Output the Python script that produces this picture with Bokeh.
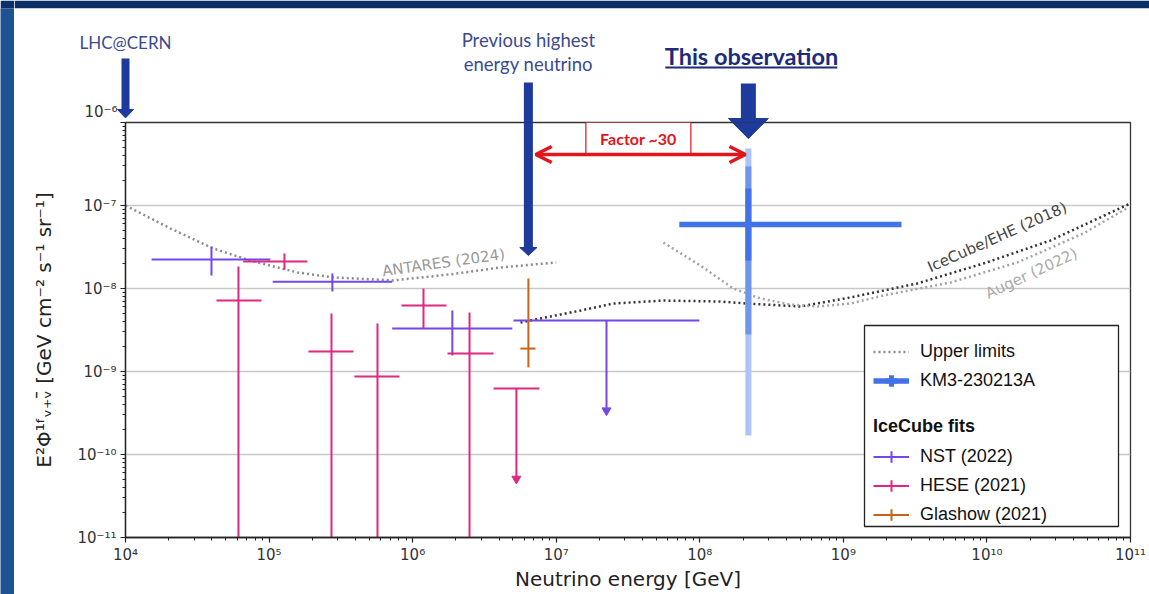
import math
from bokeh.plotting import figure
from bokeh.layouts import column, row
from bokeh.models import (Range1d, FixedTicker, CustomJSTickFormatter, Legend, LegendItem,
                          BoxAnnotation, Arrow, OpenHead, Label, PolyAnnotation)
from bokeh.embed import file_html
from bokeh.resources import INLINE

# ---------------- data ----------------
x_ticks = [1e4, 1e5, 1e6, 1e7, 1e8, 1e9, 1e10, 1e11]
y_ticks = [1e-11, 1e-10, 1e-9, 1e-8, 1e-7, 1e-6]

# upper-limit curves
antares_e = [1.0e4, 2.06e4, 4.1e4, 7.41e4, 1.58e5, 2.81e5, 7.35e5, 1.83e6, 4.08e6, 1.0e7]
antares_f = [1.0e-7, 5.28e-8, 3.03e-8, 2.17e-8, 1.56e-8, 1.36e-8, 1.25e-8, 1.48e-8, 1.79e-8, 2.06e-8]

ehe_e = [5.64e6, 9.12e6, 1.48e7, 2.5e7, 5.58e7, 1.39e8, 2.14e8, 5.02e8, 1.12e9, 3.27e9, 9.44e9, 2.76e10, 1.0e11]
ehe_f = [3.89e-9, 4.6e-9, 5.43e-9, 6.59e-9, 7.16e-9, 6.97e-9, 6.59e-9, 6.07e-9, 7.8e-9, 1.15e-8, 2.0e-8, 3.78e-8, 1.06e-7]

auger_e = [5.58e7, 1.01e8, 1.71e8, 2.64e8, 4.28e8, 6.59e8, 1.12e9, 1.9e9, 5.56e9, 1.63e10, 4.69e10, 9.66e10]
auger_f = [3.58e-8, 1.89e-8, 1.0e-8, 7.59e-9, 6.41e-9, 6.07e-9, 6.59e-9, 8.24e-9, 1.18e-8, 2.06e-8, 4.6e-8, 9.46e-8]

# IceCube NST (2022)
nst_e = [3.97e4, 2.76e5, 1.89e6]
nst_e_lo = [1.52e4, 1.06e5, 7.2e5]
nst_e_hi = [1.02e5, 7.2e5, 4.95e6]
nst_f = [2.23e-8, 1.21e-8, 3.3e-9]
nst_f_lo = [1.43e-8, 9.2e-9, 1.56e-9]
nst_f_hi = [3.2e-8, 1.52e-8, 5.43e-9]
nst_ul_e = [2.24e7]
nst_ul_e_lo = [5.04e6]
nst_ul_e_hi = [9.93e7]
nst_ul_f = [4.11e-9]
nst_ul_tip = [3.39e-10]

# IceCube HESE (2021)
hese_e = [6.12e4, 1.28e5, 2.72e5, 5.69e5, 1.19e6, 2.49e6]
hese_e_lo = [4.3e4, 6.6e4, 1.88e5, 3.93e5, 8.36e5, 1.75e6]
hese_e_hi = [8.85e4, 1.85e5, 3.87e5, 8.1e5, 1.72e6, 3.66e6]
hese_f = [7.16e-9, 2.11e-8, 1.74e-9, 8.7e-10, 6.23e-9, 1.65e-9]
hese_f_lo = [1e-12, 1.69e-8, 1e-12, 1e-12, 3.3e-9, 1e-12]
hese_f_hi = [1.84e-8, 2.64e-8, 5.0e-9, 3.79e-9, 1.0e-8, 5.14e-9]
hese_ul_e = [5.28e6]
hese_ul_e_lo = [3.66e6]
hese_ul_e_hi = [7.64e6]
hese_ul_f = [6.24e-10]
hese_ul_tip = [5.1e-11]

# IceCube Glashow (2021)
gla_e = [6.4e6]
gla_e_lo = [5.63e6]
gla_e_hi = [7.17e6]
gla_f = [1.89e-9]
gla_f_lo = [1.12e-9]
gla_f_hi = [1.32e-8]

# KM3-230213A
km3_e = [2.18e8]
km3_e_lo = [7.2e7]
km3_e_hi = [2.54e9]
km3_f = [5.9e-8]
km3_1s = [2.17e-8, 1.6e-7]
km3_2s = [2.79e-9, 2.95e-7]
km3_3s = [1.69e-10, 4.86e-7]

lhc_e = 1.0e4

# ---------------- layout / style ----------------
W, H = 1149, 594
STRIP = 14                 # slide edge on the left
TOP = 122                  # page y of the plot frame top
FL, FR, FB = 125, 1130, 537
DEC = (FR - FL) / 7.0      # px per decade (x)
YDEC = (FB - TOP) / 5.0    # px per decade (y)

NST_C = "#7447ea"
HESE_C = "#e0287f"
GLA_C = "#cc6216"
KM3_C = "#4272e8"
KM3_2S = "#6f95ef"
KM3_3S = "#adc4f6"
BLUE = "#1e3a9c"
RED = "#e3141c"
NAVY = "#0b2f66"
AX = "DejaVu Sans"

# ---------------- main plot ----------------
p = figure(width=W - STRIP, height=H - TOP, x_axis_type="log", y_axis_type="log",
           x_range=Range1d(1e4, 1e11), y_range=Range1d(1e-11, 1e-6),
           output_backend="svg", toolbar_location=None,
           min_border_left=FL - STRIP, min_border_right=W - FR, min_border_top=0,
           min_border_bottom=H - FB,
           background_fill_color="white", border_fill_color="white")
p.frame_align = False

x_minor = [k * 10.0 ** d for d in range(4, 11) for k in range(2, 10)]
y_minor = [k * 10.0 ** d for d in range(-11, -6) for k in range(2, 10)]
p.xaxis.ticker = FixedTicker(ticks=x_ticks, minor_ticks=x_minor)
p.yaxis.ticker = FixedTicker(ticks=y_ticks, minor_ticks=y_minor)
p.ygrid.ticker = FixedTicker(ticks=y_ticks)
p.xgrid.visible = False
p.ygrid.grid_line_color = "#c8c8c8"
p.ygrid.grid_line_width = 1.3

SUP = """
const m = {'-':'\u207b','0':'\u2070','1':'\u00b9','2':'\u00b2','3':'\u00b3','4':'\u2074',
           '5':'\u2075','6':'\u2076','7':'\u2077','8':'\u2078','9':'\u2079'};
const e = Math.round(Math.log10(tick));
"""
p.xaxis.formatter = CustomJSTickFormatter(code=SUP + "return '10' + String(e).split('').map(c => m[c]).join('');")
p.yaxis.formatter = CustomJSTickFormatter(code=SUP + "if (e >= -6) { return ''; }\nreturn '10' + String(e).split('').map(c => m[c]).join('');")

for ax in p.axis:
    ax.axis_line_color = "#222222"
    ax.axis_line_width = 1.3
    ax.major_tick_line_color = "#222222"
    ax.minor_tick_line_color = "#222222"
    ax.major_tick_line_width = 1.2
    ax.major_tick_out = 5
    ax.major_tick_in = 0
    ax.minor_tick_out = 3
    ax.minor_tick_in = 0
    ax.major_label_text_font = AX
    ax.major_label_text_font_size = "15px"
    ax.major_label_text_color = "#333333"
    ax.axis_label_text_font = AX
    ax.axis_label_text_font_size = "20px"
    ax.axis_label_text_font_style = "normal"
    ax.axis_label_text_color = "#222222"

p.xaxis.axis_label = "Neutrino energy [GeV]"
p.xaxis.major_label_standoff = 3
p.xaxis.axis_label_standoff = 0
p.yaxis.axis_label = "E\u00b2\u03a6\u00b9\u1da0\u1d65\u208a\u1d65\u0304 [GeV cm\u207b\u00b2 s\u207b\u00b9 sr\u207b\u00b9]"
p.yaxis.major_label_standoff = 4
p.yaxis.axis_label_standoff = 18
p.outline_line_color = "#333333"
p.outline_line_width = 1.3

# upper limit curves
r_ant = p.line(antares_e, antares_f, line_color="#8c8c8c", line_width=2.5, line_dash="2 3")
r_ehe = p.line(ehe_e, ehe_f, line_color="#333333", line_width=2.5, line_dash="2 3")
r_aug = p.line(auger_e, auger_f, line_color="#a3a3a3", line_width=2.5, line_dash="2 3")

# IceCube fits
r_nst = p.segment(x0=nst_e_lo, y0=nst_f, x1=nst_e_hi, y1=nst_f, line_color=NST_C, line_width=2)
p.segment(x0=nst_e, y0=nst_f_lo, x1=nst_e, y1=nst_f_hi, line_color=NST_C, line_width=2)
p.segment(x0=nst_ul_e_lo, y0=nst_ul_f, x1=nst_ul_e_hi, y1=nst_ul_f, line_color=NST_C, line_width=2)
p.segment(x0=nst_ul_e, y0=nst_ul_f, x1=nst_ul_e, y1=nst_ul_tip, line_color=NST_C, line_width=2)
p.scatter(nst_ul_e, nst_ul_tip, marker="inverted_triangle", size=9, fill_color=NST_C, line_color=NST_C)

r_hese = p.segment(x0=hese_e_lo, y0=hese_f, x1=hese_e_hi, y1=hese_f, line_color=HESE_C, line_width=2)
p.segment(x0=hese_e, y0=hese_f_lo, x1=hese_e, y1=hese_f_hi, line_color=HESE_C, line_width=2)
p.segment(x0=hese_ul_e_lo, y0=hese_ul_f, x1=hese_ul_e_hi, y1=hese_ul_f, line_color=HESE_C, line_width=2)
p.segment(x0=hese_ul_e, y0=hese_ul_f, x1=hese_ul_e, y1=hese_ul_tip, line_color=HESE_C, line_width=2)
p.scatter(hese_ul_e, hese_ul_tip, marker="inverted_triangle", size=9, fill_color=HESE_C, line_color=HESE_C)

r_gla = p.segment(x0=gla_e_lo, y0=gla_f, x1=gla_e_hi, y1=gla_f, line_color=GLA_C, line_width=2)
p.segment(x0=gla_e, y0=gla_f_lo, x1=gla_e, y1=gla_f_hi, line_color=GLA_C, line_width=2)

# KM3-230213A
p.segment(x0=km3_e, y0=[km3_3s[0]], x1=km3_e, y1=[km3_3s[1]], line_color=KM3_3S, line_width=6)
p.segment(x0=km3_e, y0=[km3_2s[0]], x1=km3_e, y1=[km3_2s[1]], line_color=KM3_2S, line_width=6)
p.segment(x0=km3_e, y0=[km3_1s[0]], x1=km3_e, y1=[km3_1s[1]], line_color=KM3_C, line_width=6)
r_km3 = p.segment(x0=km3_e_lo, y0=km3_f, x1=km3_e_hi, y1=km3_f, line_color=KM3_C, line_width=5.5)

# legend-only cross markers (zero size on the plot, drawn as a cross in the legend)
c_km3 = p.scatter(km3_e, km3_f, marker="cross", size=0, line_color=KM3_C, line_width=5)
c_nst = p.scatter(nst_e, nst_f, marker="cross", size=0, line_color=NST_C, line_width=2)
c_hese = p.scatter(hese_e, hese_f, marker="cross", size=0, line_color=HESE_C, line_width=2)
c_gla = p.scatter(gla_e, gla_f, marker="cross", size=0, line_color=GLA_C, line_width=2)

# curve labels
lab_font = dict(text_font=AX, text_font_size="15px", text_align="center",
                text_baseline="middle", angle_units="deg")
p.add_layout(Label(x=1.64e6, y=2.05e-8, text="ANTARES (2024)", angle=8, text_color="#9a9a9a", **lab_font))
p.add_layout(Label(x=1.18e10, y=4.15e-8, text="IceCube/EHE (2018)", angle=24, text_color="#444444", **lab_font))
p.add_layout(Label(x=2.04e10, y=1.52e-8, text="Auger (2022)", angle=25, text_color="#aaaaaa", **lab_font))

# legend
p.add_layout(BoxAnnotation(left=864 - STRIP, right=1118 - STRIP, top=325 - TOP, bottom=526 - TOP,
                           left_units="canvas", right_units="canvas",
                           top_units="canvas", bottom_units="canvas",
                           fill_color="white", fill_alpha=1.0,
                           line_color="#222222", line_alpha=1.0, line_width=1.3))

leg_style = dict(border_line_alpha=0, background_fill_alpha=0, padding=0, margin=0,
                 spacing=0, glyph_width=36, glyph_height=29, label_standoff=11,
                 label_text_font="Liberation Sans", label_text_font_size="18px",
                 label_text_color="#111111")
legA = Legend(items=[LegendItem(label="Upper limits", renderers=[r_ant]),
                     LegendItem(label="KM3-230213A", renderers=[r_km3, c_km3])],
              location=(748, 142), **leg_style)
legB = Legend(items=[LegendItem(label="NST (2022)", renderers=[r_nst, c_nst]),
                     LegendItem(label="HESE (2021)", renderers=[r_hese, c_hese]),
                     LegendItem(label="Glashow (2021)", renderers=[r_gla, c_gla])],
              title="IceCube fits", title_text_font="Liberation Sans",
              title_text_font_size="18px", title_text_font_style="bold",
              title_text_color="#111111", title_standoff=5,
              location=(748, 8), **leg_style)
p.add_layout(legA)
p.add_layout(legB)

# factor ~30 : box from the frame top down to the double arrow, centred between both energies
gm = math.sqrt(gla_e[0] * km3_e[0])
factor_y = 10 ** -6.386
half = 52.5 / DEC
p.add_layout(BoxAnnotation(left=gm * 10 ** -half, right=gm * 10 ** half, top=1e-6, bottom=factor_y,
                           fill_color="white", fill_alpha=1.0,
                           line_color=RED, line_alpha=1.0, line_width=1.2))
p.add_layout(Arrow(start=OpenHead(size=16, line_color=RED, line_width=3.5),
                   end=OpenHead(size=16, line_color=RED, line_width=3.5),
                   x_start=7.2e6, y_start=factor_y, x_end=2.08e8, y_end=factor_y,
                   line_color=RED, line_width=3.5))
p.add_layout(Label(x=gm, y=10 ** -6.19, text="Factor ~30", text_font="Lato", text_font_size="16px",
                   text_font_style="bold", text_color=RED, text_align="center", text_baseline="middle"))

# ---------------- top strip (slide annotations above the frame) ----------------
top = figure(width=W - STRIP, height=TOP, x_axis_type="log", y_axis_type="log",
             x_range=Range1d(10 ** (4 + (STRIP - FL) / DEC), 10 ** (4 + (W - FL) / DEC)),
             y_range=Range1d(1e-6, 10 ** (-6 + (TOP - 8) / YDEC)),
             x_axis_location=None, y_axis_location=None,
             output_backend="svg", toolbar_location=None,
             min_border_left=0, min_border_right=0, min_border_top=8, min_border_bottom=0,
             background_fill_color="white", border_fill_color=NAVY, outline_line_color=None)
top.frame_align = False
top.grid.visible = False
# continuation of the frame's top edge
top.segment(x0=[1e4], y0=[1e-6], x1=[1e11], y1=[1e-6], line_color="#333333", line_width=1.3)
top.add_layout(Label(x=10 ** (4 - 8 / DEC), y=10 ** (-6 + 1.5 / YDEC), text="10\u207b\u2076",
                     text_font=AX, text_font_size="15px", text_color="#333333",
                     text_align="right", text_baseline="bottom"))


def head(x, y_base, y_tip, half_dex):
    return PolyAnnotation(xs=[x * 10 ** (-half_dex), x * 10 ** half_dex, x],
                          ys=[y_base, y_base, y_tip], fill_color=BLUE, fill_alpha=1.0,
                          line_color=BLUE, line_alpha=1.0, line_width=1)


def slide_arrows(fig):
    # LHC@CERN
    fig.add_layout(Arrow(end=None, x_start=lhc_e, y_start=10 ** -5.229, x_end=lhc_e, y_end=10 ** -5.843,
                         line_color=BLUE, line_width=8))
    fig.add_layout(head(lhc_e, 10 ** -5.843, 10 ** -5.945, 0.056))
    # previous highest energy neutrino
    fig.add_layout(Arrow(end=None, x_start=gla_e[0], y_start=10 ** -5.518, x_end=gla_e[0], y_end=10 ** -7.506,
                         line_color=BLUE, line_width=9))
    fig.add_layout(head(gla_e[0], 10 ** -7.506, 10 ** -7.602, 0.06))
    # this observation
    fig.add_layout(Arrow(end=None, x_start=km3_e[0], y_start=10 ** -5.530, x_end=km3_e[0], y_end=10 ** -5.952,
                         line_color=BLUE, line_width=15))
    fig.add_layout(head(km3_e[0], 10 ** -5.952, 10 ** -6.193, 0.139))


slide_arrows(top)
slide_arrows(p)

top.add_layout(Label(x=lhc_e, y=10 ** -5.036, text="LHC@CERN", text_font="Lato", text_font_size="17px",
                     text_color="#3b4b8f", text_align="center", text_baseline="middle"))
top.add_layout(Label(x=gla_e[0], y=10 ** -5.012, text="Previous highest", text_font="Lato",
                     text_font_size="18.5px", text_color="#3b4b8f", text_align="center", text_baseline="middle"))
top.add_layout(Label(x=gla_e[0], y=10 ** -5.301, text="energy neutrino", text_font="Lato",
                     text_font_size="18.5px", text_color="#3b4b8f", text_align="center", text_baseline="middle"))
top.add_layout(Label(x=2.29e8, y=10 ** -5.193, text="This observation", text_font="Lato",
                     text_font_size="23.5px", text_font_style="bold", text_color="#1c2b7a",
                     text_align="center", text_baseline="middle"))
top.add_layout(Arrow(end=None, x_start=10 ** 7.760, y_start=10 ** -5.337, x_end=10 ** 8.958, y_end=10 ** -5.337,
                     line_color="#1c2b7a", line_width=2))

# ---------------- slide edge on the left ----------------
edge = figure(width=STRIP, height=H, x_range=Range1d(0, 1), y_range=Range1d(0, 1),
              x_axis_location=None, y_axis_location=None,
              output_backend="svg", toolbar_location=None,
              min_border_left=0, min_border_right=0, min_border_top=8, min_border_bottom=0,
              background_fill_color="#1d5391", border_fill_color=NAVY, outline_line_color=None)
edge.frame_align = False
edge.grid.visible = False

layout = row(edge, column(top, p, spacing=0), spacing=0)
open("out.html", "w").write(file_html(layout, INLINE))
